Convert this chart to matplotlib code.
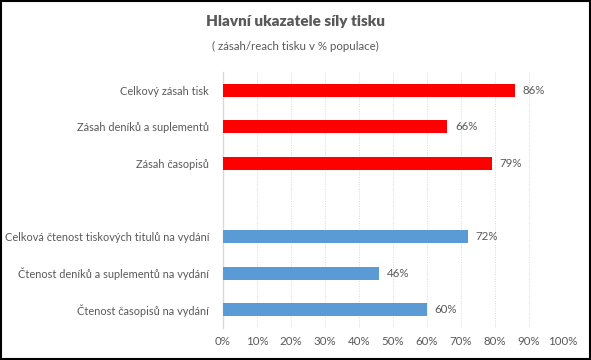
import matplotlib.pyplot as plt
from matplotlib.patches import Rectangle
from matplotlib.ticker import PercentFormatter

plt.rcParams["font.family"] = ["Lato", "DejaVu Sans"]

TITLE = "Hlavní ukazatele síly tisku"
SUBTITLE = "( zásah/reach tisku v % populace)"

reach_labels = ["Celkový zásah tisk", "Zásah deníků a suplementů", "Zásah časopisů"]
reach_values = [86, 66, 79]
read_labels = [
    "Celková čtenost tiskových titulů na vydání",
    "Čtenost deníků a suplementů na vydání",
    "Čtenost časopisů na vydání",
]
read_values = [72, 46, 60]

RED = "#FF0000"
BLUE = "#5B9BD5"
TEXT = "#595959"

fig = plt.figure(figsize=(5.91, 3.6), dpi=100)
ax = fig.add_axes([223 / 591, 1 - 328 / 360, 340 / 591, 256 / 360])

# one empty slot between the two groups
labels = reach_labels + [""] + read_labels
values = reach_values + [None] + read_values
colors = [RED] * len(reach_values) + [None] + [BLUE] * len(read_values)
ypos = list(range(len(labels)))

for y, v, c in zip(ypos, values, colors):
    if v is None:
        continue
    ax.barh(y, v, height=0.35, color=c, zorder=3)
    ax.text(v + 2.2, y, f"{v}%", va="center", ha="left", fontsize=8.3, color=TEXT)

ax.set_ylim(len(labels) - 0.5, -0.5)
ax.set_xlim(0, 100)
ax.set_yticks(ypos, labels)
ax.set_xticks(range(0, 101, 10))
ax.xaxis.set_major_formatter(PercentFormatter(decimals=0))
ax.tick_params(length=0, labelsize=8.3, labelcolor=TEXT)
ax.tick_params(axis="y", pad=10, labelsize=7.9)
ax.tick_params(axis="x", pad=6)
ax.grid(axis="x", color="#D9D9D9", linestyle=(0, (1, 1.5)), linewidth=0.7, zorder=0)
for side in ["top", "right", "bottom"]:
    ax.spines[side].set_visible(False)
ax.spines["left"].set_color("#D9D9D9")
ax.spines["left"].set_linewidth(1)

fig.text(0.5, 1 - 22 / 360, TITLE, ha="center", va="center", fontsize=11,
         fontweight="heavy", color=TEXT)
fig.text(0.5, 1 - 46 / 360, SUBTITLE, ha="center", va="center", fontsize=8.3,
         color=TEXT)

fig.patches.append(Rectangle((0.001, 0.002), 0.997, 0.996, transform=fig.transFigure,
                             fill=False, edgecolor="black", linewidth=1.5))

fig.savefig("out.png", dpi=100)
